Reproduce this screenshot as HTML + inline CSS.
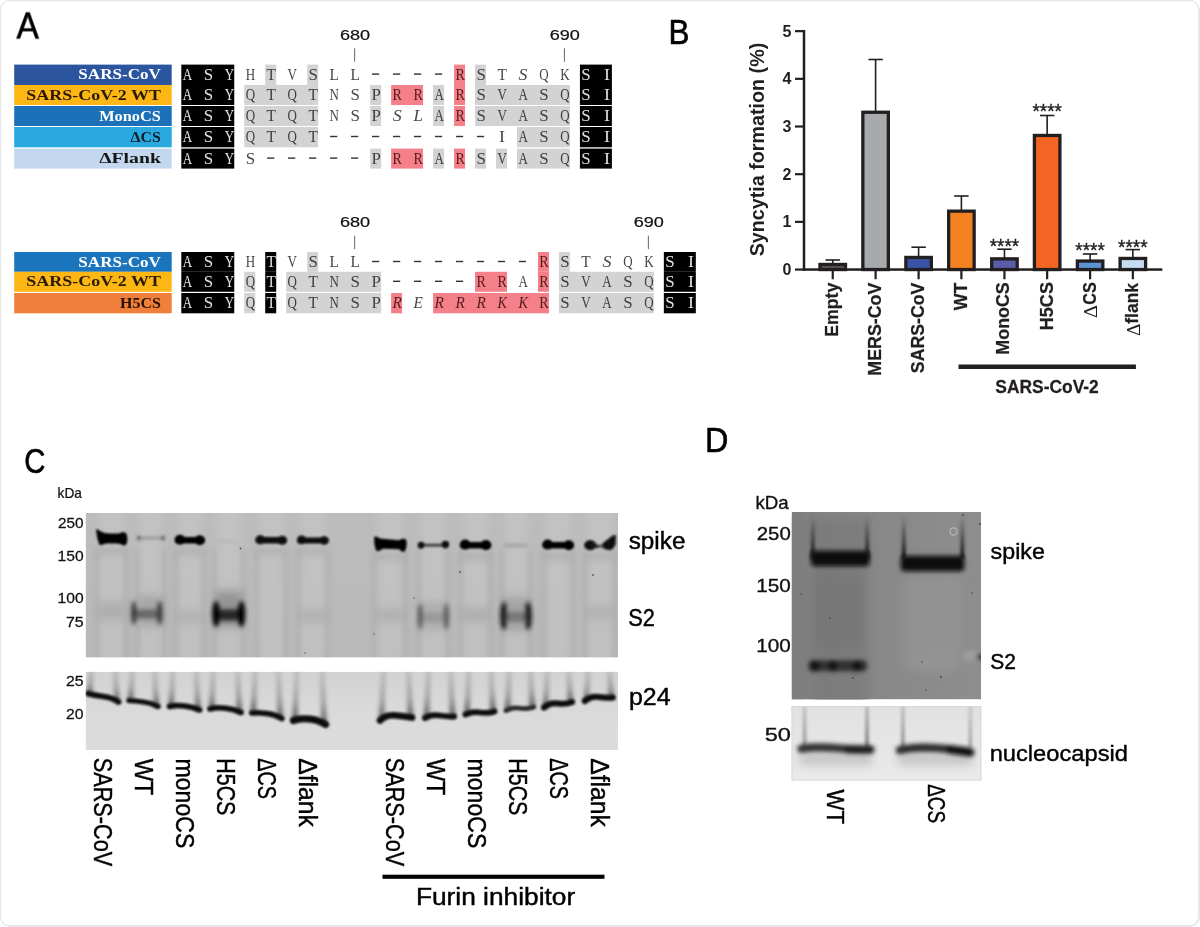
<!DOCTYPE html>
<html><head><meta charset="utf-8"><title>Figure</title>
<style>
html,body{margin:0;padding:0;background:#fff;}
body{width:1200px;height:927px;overflow:hidden;font-family:"Liberation Sans",sans-serif;}
svg{display:block;will-change:transform;}
</style></head><body>
<svg width="1200" height="927" viewBox="0 0 1200 927">
<defs>
<filter id="b05" filterUnits="userSpaceOnUse" x="0" y="0" width="1200" height="927"><feGaussianBlur stdDeviation="0.6"/></filter>
<filter id="b1" filterUnits="userSpaceOnUse" x="0" y="0" width="1200" height="927"><feGaussianBlur stdDeviation="1.0"/></filter>
<filter id="b15" filterUnits="userSpaceOnUse" x="0" y="0" width="1200" height="927"><feGaussianBlur stdDeviation="1.5"/></filter>
<filter id="b2" filterUnits="userSpaceOnUse" x="0" y="0" width="1200" height="927"><feGaussianBlur stdDeviation="2.2"/></filter>
<filter id="b3" filterUnits="userSpaceOnUse" x="0" y="0" width="1200" height="927"><feGaussianBlur stdDeviation="3.5"/></filter>
<filter id="b5" filterUnits="userSpaceOnUse" x="0" y="0" width="1200" height="927"><feGaussianBlur stdDeviation="5"/></filter>
<filter id="b8" filterUnits="userSpaceOnUse" x="0" y="0" width="1200" height="927"><feGaussianBlur stdDeviation="8"/></filter>
<clipPath id="cC1"><rect x="85.6" y="513" width="532.4" height="144.6"/></clipPath>
<clipPath id="cC2"><rect x="85.6" y="671.7" width="532.4" height="78.5"/></clipPath>
<clipPath id="cD1"><rect x="791.9" y="512" width="189.1" height="187.4"/></clipPath>
<clipPath id="cD2"><rect x="791.9" y="706.6" width="189.1" height="73.6"/></clipPath>
</defs>
<rect x="0" y="0" width="1200" height="927" fill="#fff"/>
<rect x="0.6" y="0.6" width="1198.4" height="925.4" rx="9" ry="9" fill="#fff" stroke="#e7e7e7" stroke-width="1.2"/>
<path d="M1199 8 L1199 917 A9 9 0 0 1 1190 926 L8 926" fill="none" stroke="#e7e7e7" stroke-width="2"/>
<g opacity="0.999">
<text transform="translate(16.50 38.50) scale(0.9238 1)" font-size="36.3" font-family="Liberation Sans, sans-serif" stroke="#000" stroke-width="0.65" >A</text>
<rect x="14.20" y="64.60" width="157.50" height="20.40" fill="#2b569f" />
<text x="160.90" y="79.20" font-size="14.4" font-family="Liberation Serif, serif" font-weight="bold" text-anchor="end" fill="#fff" textLength="82.56" lengthAdjust="spacingAndGlyphs" >SARS-CoV</text>
<rect x="14.20" y="85.00" width="157.50" height="20.00" fill="#fdb715" />
<text x="160.90" y="99.60" font-size="14.4" font-family="Liberation Serif, serif" font-weight="bold" text-anchor="end" fill="#2a1a00" textLength="134.66" lengthAdjust="spacingAndGlyphs" >SARS-CoV-2 WT</text>
<rect x="14.20" y="106.00" width="157.50" height="20.00" fill="#1b70b8" />
<text x="160.90" y="120.60" font-size="14.4" font-family="Liberation Serif, serif" font-weight="bold" text-anchor="end" fill="#fff" textLength="61.72" lengthAdjust="spacingAndGlyphs" >MonoCS</text>
<rect x="14.20" y="127.00" width="157.50" height="20.30" fill="#29a9e0" />
<text x="160.90" y="141.60" font-size="14.4" font-family="Liberation Serif, serif" font-weight="bold" text-anchor="end" fill="#10202a" textLength="30.46" lengthAdjust="spacingAndGlyphs" >&#916;CS</text>
<rect x="14.20" y="148.60" width="157.50" height="20.00" fill="#c3d8ee" />
<text x="160.90" y="163.20" font-size="14.4" font-family="Liberation Serif, serif" font-weight="bold" text-anchor="end" fill="#151515" textLength="61.72" lengthAdjust="spacingAndGlyphs" >&#916;Flank</text>
<rect x="181.30" y="64.60" width="52.96" height="20.40" fill="#000" />
<rect x="265.22" y="64.60" width="11.00" height="20.40" fill="#d3d3d3" />
<rect x="307.18" y="64.60" width="11.00" height="20.40" fill="#d3d3d3" />
<rect x="454.04" y="64.60" width="11.00" height="20.40" fill="#f4818a" />
<rect x="475.02" y="64.60" width="11.00" height="20.40" fill="#d3d3d3" />
<rect x="579.92" y="64.60" width="31.98" height="20.40" fill="#000" />
<rect x="181.30" y="85.00" width="52.96" height="20.00" fill="#000" />
<rect x="244.24" y="85.00" width="73.94" height="20.00" fill="#d3d3d3" />
<rect x="370.12" y="85.00" width="11.00" height="20.00" fill="#d3d3d3" />
<rect x="391.10" y="85.00" width="31.98" height="20.00" fill="#f4818a" />
<rect x="433.06" y="85.00" width="11.00" height="20.00" fill="#d3d3d3" />
<rect x="454.04" y="85.00" width="11.00" height="20.00" fill="#f4818a" />
<rect x="475.02" y="85.00" width="94.92" height="20.00" fill="#d3d3d3" />
<rect x="579.92" y="85.00" width="31.98" height="20.00" fill="#000" />
<rect x="181.30" y="106.00" width="52.96" height="20.00" fill="#000" />
<rect x="244.24" y="106.00" width="73.94" height="20.00" fill="#d3d3d3" />
<rect x="370.12" y="106.00" width="11.00" height="20.00" fill="#d3d3d3" />
<rect x="433.06" y="106.00" width="11.00" height="20.00" fill="#d3d3d3" />
<rect x="454.04" y="106.00" width="11.00" height="20.00" fill="#f4818a" />
<rect x="475.02" y="106.00" width="94.92" height="20.00" fill="#d3d3d3" />
<rect x="579.92" y="106.00" width="31.98" height="20.00" fill="#000" />
<rect x="181.30" y="127.00" width="52.96" height="20.30" fill="#000" />
<rect x="244.24" y="127.00" width="73.94" height="20.30" fill="#d3d3d3" />
<rect x="516.98" y="127.00" width="52.96" height="20.30" fill="#d3d3d3" />
<rect x="579.92" y="127.00" width="31.98" height="20.30" fill="#000" />
<rect x="181.30" y="148.60" width="52.96" height="20.00" fill="#000" />
<rect x="370.12" y="148.60" width="11.00" height="20.00" fill="#d3d3d3" />
<rect x="391.10" y="148.60" width="31.98" height="20.00" fill="#f4818a" />
<rect x="433.06" y="148.60" width="11.00" height="20.00" fill="#d3d3d3" />
<rect x="454.04" y="148.60" width="11.00" height="20.00" fill="#f4818a" />
<rect x="475.02" y="148.60" width="11.00" height="20.00" fill="#d3d3d3" />
<rect x="496.00" y="148.60" width="11.00" height="20.00" fill="#d3d3d3" />
<rect x="516.98" y="148.60" width="52.96" height="20.00" fill="#d3d3d3" />
<rect x="579.92" y="148.60" width="31.98" height="20.00" fill="#000" />
<text transform="translate(187.40 79.80) scale(0.814 1)" x="0" y="0" font-size="16.0" font-family="Liberation Serif, serif" text-anchor="middle" fill="#e0e0e0">A</text>
<text transform="translate(208.38 79.80) scale(1.056 1)" x="0" y="0" font-size="16.0" font-family="Liberation Serif, serif" text-anchor="middle" fill="#e0e0e0">S</text>
<text transform="translate(229.36 79.80) scale(0.814 1)" x="0" y="0" font-size="16.0" font-family="Liberation Serif, serif" text-anchor="middle" fill="#e0e0e0">Y</text>
<text transform="translate(250.34 79.80) scale(0.814 1)" x="0" y="0" font-size="16.0" font-family="Liberation Serif, serif" text-anchor="middle" fill="#484848">H</text>
<text transform="translate(271.32 79.80) scale(0.962 1)" x="0" y="0" font-size="16.0" font-family="Liberation Serif, serif" text-anchor="middle" fill="#404040">T</text>
<text transform="translate(292.30 79.80) scale(0.814 1)" x="0" y="0" font-size="16.0" font-family="Liberation Serif, serif" text-anchor="middle" fill="#484848">V</text>
<text transform="translate(313.28 79.80) scale(1.056 1)" x="0" y="0" font-size="16.0" font-family="Liberation Serif, serif" text-anchor="middle" fill="#404040">S</text>
<text transform="translate(334.26 79.80) scale(0.962 1)" x="0" y="0" font-size="16.0" font-family="Liberation Serif, serif" text-anchor="middle" fill="#484848">L</text>
<text transform="translate(355.24 79.80) scale(0.962 1)" x="0" y="0" font-size="16.0" font-family="Liberation Serif, serif" text-anchor="middle" fill="#484848">L</text>
<rect x="372.02" y="73.40" width="7.20" height="1.40" fill="#333" />
<rect x="393.00" y="73.40" width="7.20" height="1.40" fill="#333" />
<rect x="413.98" y="73.40" width="7.20" height="1.40" fill="#333" />
<rect x="434.96" y="73.40" width="7.20" height="1.40" fill="#333" />
<text transform="translate(460.14 79.80) scale(0.881 1)" x="0" y="0" font-size="16.0" font-family="Liberation Serif, serif" text-anchor="middle" fill="#5a1a20">R</text>
<text transform="translate(481.12 79.80) scale(1.056 1)" x="0" y="0" font-size="16.0" font-family="Liberation Serif, serif" text-anchor="middle" fill="#404040">S</text>
<text transform="translate(502.10 79.80) scale(0.962 1)" x="0" y="0" font-size="16.0" font-family="Liberation Serif, serif" text-anchor="middle" fill="#484848">T</text>
<text transform="translate(523.08 79.80) scale(1.120 1)" x="0" y="0" font-size="16.0" font-family="Liberation Serif, serif" text-anchor="middle" fill="#484848" font-style="italic">S</text>
<text transform="translate(544.06 79.80) scale(0.814 1)" x="0" y="0" font-size="16.0" font-family="Liberation Serif, serif" text-anchor="middle" fill="#484848">Q</text>
<text transform="translate(565.04 79.80) scale(0.814 1)" x="0" y="0" font-size="16.0" font-family="Liberation Serif, serif" text-anchor="middle" fill="#484848">K</text>
<text transform="translate(586.02 79.80) scale(1.056 1)" x="0" y="0" font-size="16.0" font-family="Liberation Serif, serif" text-anchor="middle" fill="#e0e0e0">S</text>
<text transform="translate(607.00 79.80) scale(1.120 1)" x="0" y="0" font-size="16.0" font-family="Liberation Serif, serif" text-anchor="middle" fill="#e0e0e0">I</text>
<text transform="translate(187.40 100.20) scale(0.814 1)" x="0" y="0" font-size="16.0" font-family="Liberation Serif, serif" text-anchor="middle" fill="#e0e0e0">A</text>
<text transform="translate(208.38 100.20) scale(1.056 1)" x="0" y="0" font-size="16.0" font-family="Liberation Serif, serif" text-anchor="middle" fill="#e0e0e0">S</text>
<text transform="translate(229.36 100.20) scale(0.814 1)" x="0" y="0" font-size="16.0" font-family="Liberation Serif, serif" text-anchor="middle" fill="#e0e0e0">Y</text>
<text transform="translate(250.34 100.20) scale(0.814 1)" x="0" y="0" font-size="16.0" font-family="Liberation Serif, serif" text-anchor="middle" fill="#404040">Q</text>
<text transform="translate(271.32 100.20) scale(0.962 1)" x="0" y="0" font-size="16.0" font-family="Liberation Serif, serif" text-anchor="middle" fill="#404040">T</text>
<text transform="translate(292.30 100.20) scale(0.814 1)" x="0" y="0" font-size="16.0" font-family="Liberation Serif, serif" text-anchor="middle" fill="#404040">Q</text>
<text transform="translate(313.28 100.20) scale(0.962 1)" x="0" y="0" font-size="16.0" font-family="Liberation Serif, serif" text-anchor="middle" fill="#404040">T</text>
<text transform="translate(334.26 100.20) scale(0.814 1)" x="0" y="0" font-size="16.0" font-family="Liberation Serif, serif" text-anchor="middle" fill="#484848">N</text>
<text transform="translate(355.24 100.20) scale(1.056 1)" x="0" y="0" font-size="16.0" font-family="Liberation Serif, serif" text-anchor="middle" fill="#484848">S</text>
<text transform="translate(376.22 100.20) scale(1.056 1)" x="0" y="0" font-size="16.0" font-family="Liberation Serif, serif" text-anchor="middle" fill="#404040">P</text>
<text transform="translate(397.20 100.20) scale(0.881 1)" x="0" y="0" font-size="16.0" font-family="Liberation Serif, serif" text-anchor="middle" fill="#5a1a20">R</text>
<text transform="translate(418.18 100.20) scale(0.881 1)" x="0" y="0" font-size="16.0" font-family="Liberation Serif, serif" text-anchor="middle" fill="#5a1a20">R</text>
<text transform="translate(439.16 100.20) scale(0.814 1)" x="0" y="0" font-size="16.0" font-family="Liberation Serif, serif" text-anchor="middle" fill="#404040">A</text>
<text transform="translate(460.14 100.20) scale(0.881 1)" x="0" y="0" font-size="16.0" font-family="Liberation Serif, serif" text-anchor="middle" fill="#5a1a20">R</text>
<text transform="translate(481.12 100.20) scale(1.056 1)" x="0" y="0" font-size="16.0" font-family="Liberation Serif, serif" text-anchor="middle" fill="#404040">S</text>
<text transform="translate(502.10 100.20) scale(0.814 1)" x="0" y="0" font-size="16.0" font-family="Liberation Serif, serif" text-anchor="middle" fill="#404040">V</text>
<text transform="translate(523.08 100.20) scale(0.814 1)" x="0" y="0" font-size="16.0" font-family="Liberation Serif, serif" text-anchor="middle" fill="#404040">A</text>
<text transform="translate(544.06 100.20) scale(1.056 1)" x="0" y="0" font-size="16.0" font-family="Liberation Serif, serif" text-anchor="middle" fill="#404040">S</text>
<text transform="translate(565.04 100.20) scale(0.814 1)" x="0" y="0" font-size="16.0" font-family="Liberation Serif, serif" text-anchor="middle" fill="#404040">Q</text>
<text transform="translate(586.02 100.20) scale(1.056 1)" x="0" y="0" font-size="16.0" font-family="Liberation Serif, serif" text-anchor="middle" fill="#e0e0e0">S</text>
<text transform="translate(607.00 100.20) scale(1.120 1)" x="0" y="0" font-size="16.0" font-family="Liberation Serif, serif" text-anchor="middle" fill="#e0e0e0">I</text>
<text transform="translate(187.40 121.20) scale(0.814 1)" x="0" y="0" font-size="16.0" font-family="Liberation Serif, serif" text-anchor="middle" fill="#e0e0e0">A</text>
<text transform="translate(208.38 121.20) scale(1.056 1)" x="0" y="0" font-size="16.0" font-family="Liberation Serif, serif" text-anchor="middle" fill="#e0e0e0">S</text>
<text transform="translate(229.36 121.20) scale(0.814 1)" x="0" y="0" font-size="16.0" font-family="Liberation Serif, serif" text-anchor="middle" fill="#e0e0e0">Y</text>
<text transform="translate(250.34 121.20) scale(0.814 1)" x="0" y="0" font-size="16.0" font-family="Liberation Serif, serif" text-anchor="middle" fill="#404040">Q</text>
<text transform="translate(271.32 121.20) scale(0.962 1)" x="0" y="0" font-size="16.0" font-family="Liberation Serif, serif" text-anchor="middle" fill="#404040">T</text>
<text transform="translate(292.30 121.20) scale(0.814 1)" x="0" y="0" font-size="16.0" font-family="Liberation Serif, serif" text-anchor="middle" fill="#404040">Q</text>
<text transform="translate(313.28 121.20) scale(0.962 1)" x="0" y="0" font-size="16.0" font-family="Liberation Serif, serif" text-anchor="middle" fill="#404040">T</text>
<text transform="translate(334.26 121.20) scale(0.814 1)" x="0" y="0" font-size="16.0" font-family="Liberation Serif, serif" text-anchor="middle" fill="#484848">N</text>
<text transform="translate(355.24 121.20) scale(1.056 1)" x="0" y="0" font-size="16.0" font-family="Liberation Serif, serif" text-anchor="middle" fill="#484848">S</text>
<text transform="translate(376.22 121.20) scale(1.056 1)" x="0" y="0" font-size="16.0" font-family="Liberation Serif, serif" text-anchor="middle" fill="#404040">P</text>
<text transform="translate(397.20 121.20) scale(1.120 1)" x="0" y="0" font-size="16.0" font-family="Liberation Serif, serif" text-anchor="middle" fill="#484848" font-style="italic">S</text>
<text transform="translate(418.18 121.20) scale(1.056 1)" x="0" y="0" font-size="16.0" font-family="Liberation Serif, serif" text-anchor="middle" fill="#484848" font-style="italic">L</text>
<text transform="translate(439.16 121.20) scale(0.814 1)" x="0" y="0" font-size="16.0" font-family="Liberation Serif, serif" text-anchor="middle" fill="#404040">A</text>
<text transform="translate(460.14 121.20) scale(0.881 1)" x="0" y="0" font-size="16.0" font-family="Liberation Serif, serif" text-anchor="middle" fill="#5a1a20">R</text>
<text transform="translate(481.12 121.20) scale(1.056 1)" x="0" y="0" font-size="16.0" font-family="Liberation Serif, serif" text-anchor="middle" fill="#404040">S</text>
<text transform="translate(502.10 121.20) scale(0.814 1)" x="0" y="0" font-size="16.0" font-family="Liberation Serif, serif" text-anchor="middle" fill="#404040">V</text>
<text transform="translate(523.08 121.20) scale(0.814 1)" x="0" y="0" font-size="16.0" font-family="Liberation Serif, serif" text-anchor="middle" fill="#404040">A</text>
<text transform="translate(544.06 121.20) scale(1.056 1)" x="0" y="0" font-size="16.0" font-family="Liberation Serif, serif" text-anchor="middle" fill="#404040">S</text>
<text transform="translate(565.04 121.20) scale(0.814 1)" x="0" y="0" font-size="16.0" font-family="Liberation Serif, serif" text-anchor="middle" fill="#404040">Q</text>
<text transform="translate(586.02 121.20) scale(1.056 1)" x="0" y="0" font-size="16.0" font-family="Liberation Serif, serif" text-anchor="middle" fill="#e0e0e0">S</text>
<text transform="translate(607.00 121.20) scale(1.120 1)" x="0" y="0" font-size="16.0" font-family="Liberation Serif, serif" text-anchor="middle" fill="#e0e0e0">I</text>
<text transform="translate(187.40 142.20) scale(0.814 1)" x="0" y="0" font-size="16.0" font-family="Liberation Serif, serif" text-anchor="middle" fill="#e0e0e0">A</text>
<text transform="translate(208.38 142.20) scale(1.056 1)" x="0" y="0" font-size="16.0" font-family="Liberation Serif, serif" text-anchor="middle" fill="#e0e0e0">S</text>
<text transform="translate(229.36 142.20) scale(0.814 1)" x="0" y="0" font-size="16.0" font-family="Liberation Serif, serif" text-anchor="middle" fill="#e0e0e0">Y</text>
<text transform="translate(250.34 142.20) scale(0.814 1)" x="0" y="0" font-size="16.0" font-family="Liberation Serif, serif" text-anchor="middle" fill="#404040">Q</text>
<text transform="translate(271.32 142.20) scale(0.962 1)" x="0" y="0" font-size="16.0" font-family="Liberation Serif, serif" text-anchor="middle" fill="#404040">T</text>
<text transform="translate(292.30 142.20) scale(0.814 1)" x="0" y="0" font-size="16.0" font-family="Liberation Serif, serif" text-anchor="middle" fill="#404040">Q</text>
<text transform="translate(313.28 142.20) scale(0.962 1)" x="0" y="0" font-size="16.0" font-family="Liberation Serif, serif" text-anchor="middle" fill="#404040">T</text>
<rect x="330.06" y="135.80" width="7.20" height="1.40" fill="#333" />
<rect x="351.04" y="135.80" width="7.20" height="1.40" fill="#333" />
<rect x="372.02" y="135.80" width="7.20" height="1.40" fill="#333" />
<rect x="393.00" y="135.80" width="7.20" height="1.40" fill="#333" />
<rect x="413.98" y="135.80" width="7.20" height="1.40" fill="#333" />
<rect x="434.96" y="135.80" width="7.20" height="1.40" fill="#333" />
<rect x="455.94" y="135.80" width="7.20" height="1.40" fill="#333" />
<rect x="476.92" y="135.80" width="7.20" height="1.40" fill="#333" />
<text transform="translate(502.10 142.20) scale(1.120 1)" x="0" y="0" font-size="16.0" font-family="Liberation Serif, serif" text-anchor="middle" fill="#484848">I</text>
<text transform="translate(523.08 142.20) scale(0.814 1)" x="0" y="0" font-size="16.0" font-family="Liberation Serif, serif" text-anchor="middle" fill="#404040">A</text>
<text transform="translate(544.06 142.20) scale(1.056 1)" x="0" y="0" font-size="16.0" font-family="Liberation Serif, serif" text-anchor="middle" fill="#404040">S</text>
<text transform="translate(565.04 142.20) scale(0.814 1)" x="0" y="0" font-size="16.0" font-family="Liberation Serif, serif" text-anchor="middle" fill="#404040">Q</text>
<text transform="translate(586.02 142.20) scale(1.056 1)" x="0" y="0" font-size="16.0" font-family="Liberation Serif, serif" text-anchor="middle" fill="#e0e0e0">S</text>
<text transform="translate(607.00 142.20) scale(1.120 1)" x="0" y="0" font-size="16.0" font-family="Liberation Serif, serif" text-anchor="middle" fill="#e0e0e0">I</text>
<text transform="translate(187.40 163.80) scale(0.814 1)" x="0" y="0" font-size="16.0" font-family="Liberation Serif, serif" text-anchor="middle" fill="#e0e0e0">A</text>
<text transform="translate(208.38 163.80) scale(1.056 1)" x="0" y="0" font-size="16.0" font-family="Liberation Serif, serif" text-anchor="middle" fill="#e0e0e0">S</text>
<text transform="translate(229.36 163.80) scale(0.814 1)" x="0" y="0" font-size="16.0" font-family="Liberation Serif, serif" text-anchor="middle" fill="#e0e0e0">Y</text>
<text transform="translate(250.34 163.80) scale(1.056 1)" x="0" y="0" font-size="16.0" font-family="Liberation Serif, serif" text-anchor="middle" fill="#484848">S</text>
<rect x="267.12" y="157.40" width="7.20" height="1.40" fill="#333" />
<rect x="288.10" y="157.40" width="7.20" height="1.40" fill="#333" />
<rect x="309.08" y="157.40" width="7.20" height="1.40" fill="#333" />
<rect x="330.06" y="157.40" width="7.20" height="1.40" fill="#333" />
<rect x="351.04" y="157.40" width="7.20" height="1.40" fill="#333" />
<text transform="translate(376.22 163.80) scale(1.056 1)" x="0" y="0" font-size="16.0" font-family="Liberation Serif, serif" text-anchor="middle" fill="#404040">P</text>
<text transform="translate(397.20 163.80) scale(0.881 1)" x="0" y="0" font-size="16.0" font-family="Liberation Serif, serif" text-anchor="middle" fill="#5a1a20">R</text>
<text transform="translate(418.18 163.80) scale(0.881 1)" x="0" y="0" font-size="16.0" font-family="Liberation Serif, serif" text-anchor="middle" fill="#5a1a20">R</text>
<text transform="translate(439.16 163.80) scale(0.814 1)" x="0" y="0" font-size="16.0" font-family="Liberation Serif, serif" text-anchor="middle" fill="#404040">A</text>
<text transform="translate(460.14 163.80) scale(0.881 1)" x="0" y="0" font-size="16.0" font-family="Liberation Serif, serif" text-anchor="middle" fill="#5a1a20">R</text>
<text transform="translate(481.12 163.80) scale(1.056 1)" x="0" y="0" font-size="16.0" font-family="Liberation Serif, serif" text-anchor="middle" fill="#404040">S</text>
<text transform="translate(502.10 163.80) scale(0.814 1)" x="0" y="0" font-size="16.0" font-family="Liberation Serif, serif" text-anchor="middle" fill="#404040">V</text>
<text transform="translate(523.08 163.80) scale(0.814 1)" x="0" y="0" font-size="16.0" font-family="Liberation Serif, serif" text-anchor="middle" fill="#404040">A</text>
<text transform="translate(544.06 163.80) scale(1.056 1)" x="0" y="0" font-size="16.0" font-family="Liberation Serif, serif" text-anchor="middle" fill="#404040">S</text>
<text transform="translate(565.04 163.80) scale(0.814 1)" x="0" y="0" font-size="16.0" font-family="Liberation Serif, serif" text-anchor="middle" fill="#404040">Q</text>
<text transform="translate(586.02 163.80) scale(1.056 1)" x="0" y="0" font-size="16.0" font-family="Liberation Serif, serif" text-anchor="middle" fill="#e0e0e0">S</text>
<text transform="translate(607.00 163.80) scale(1.120 1)" x="0" y="0" font-size="16.0" font-family="Liberation Serif, serif" text-anchor="middle" fill="#e0e0e0">I</text>
<rect x="354.14" y="48.30" width="1.00" height="13.40" fill="#666" />
<text transform="translate(339.93 39.70) scale(1.2068 1)" font-size="15.0" font-family="Liberation Sans, sans-serif" fill="#111" stroke="#111" stroke-width="0.22" >680</text>
<rect x="563.94" y="48.30" width="1.00" height="13.40" fill="#666" />
<text transform="translate(549.73 39.70) scale(1.2068 1)" font-size="15.0" font-family="Liberation Sans, sans-serif" fill="#111" stroke="#111" stroke-width="0.22" >690</text>
<rect x="14.20" y="252.00" width="157.50" height="19.80" fill="#1b75bc" />
<text x="160.90" y="266.60" font-size="14.4" font-family="Liberation Serif, serif" font-weight="bold" text-anchor="end" fill="#fff" textLength="82.56" lengthAdjust="spacingAndGlyphs" >SARS-CoV</text>
<rect x="14.20" y="271.80" width="157.50" height="20.00" fill="#fdb715" />
<text x="160.90" y="286.40" font-size="14.4" font-family="Liberation Serif, serif" font-weight="bold" text-anchor="end" fill="#2a1a00" textLength="134.66" lengthAdjust="spacingAndGlyphs" >SARS-CoV-2 WT</text>
<rect x="14.20" y="293.00" width="157.50" height="20.30" fill="#f07f3b" />
<text x="160.90" y="307.60" font-size="14.4" font-family="Liberation Serif, serif" font-weight="bold" text-anchor="end" fill="#2a1000" textLength="40.88" lengthAdjust="spacingAndGlyphs" >H5CS</text>
<rect x="181.30" y="252.00" width="52.96" height="19.80" fill="#000" />
<rect x="265.22" y="252.00" width="11.00" height="19.80" fill="#000" />
<rect x="307.18" y="252.00" width="11.00" height="19.80" fill="#d3d3d3" />
<rect x="537.96" y="252.00" width="11.00" height="19.80" fill="#f4818a" />
<rect x="558.94" y="252.00" width="11.00" height="19.80" fill="#d3d3d3" />
<rect x="663.84" y="252.00" width="31.98" height="19.80" fill="#000" />
<rect x="181.30" y="271.80" width="52.96" height="20.00" fill="#000" />
<rect x="244.24" y="271.80" width="11.00" height="20.00" fill="#d3d3d3" />
<rect x="265.22" y="271.80" width="11.00" height="20.00" fill="#000" />
<rect x="286.20" y="271.80" width="94.92" height="20.00" fill="#d3d3d3" />
<rect x="475.02" y="271.80" width="31.98" height="20.00" fill="#f4818a" />
<rect x="537.96" y="271.80" width="11.00" height="20.00" fill="#f4818a" />
<rect x="558.94" y="271.80" width="94.92" height="20.00" fill="#d3d3d3" />
<rect x="663.84" y="271.80" width="31.98" height="20.00" fill="#000" />
<rect x="181.30" y="293.00" width="52.96" height="20.30" fill="#000" />
<rect x="244.24" y="293.00" width="11.00" height="20.30" fill="#d3d3d3" />
<rect x="265.22" y="293.00" width="11.00" height="20.30" fill="#000" />
<rect x="286.20" y="293.00" width="94.92" height="20.30" fill="#d3d3d3" />
<rect x="391.10" y="293.00" width="11.00" height="20.30" fill="#f4818a" />
<rect x="433.06" y="293.00" width="115.90" height="20.30" fill="#f4818a" />
<rect x="558.94" y="293.00" width="94.92" height="20.30" fill="#d3d3d3" />
<rect x="663.84" y="293.00" width="31.98" height="20.30" fill="#000" />
<text transform="translate(187.40 267.20) scale(0.814 1)" x="0" y="0" font-size="16.0" font-family="Liberation Serif, serif" text-anchor="middle" fill="#e0e0e0">A</text>
<text transform="translate(208.38 267.20) scale(1.056 1)" x="0" y="0" font-size="16.0" font-family="Liberation Serif, serif" text-anchor="middle" fill="#e0e0e0">S</text>
<text transform="translate(229.36 267.20) scale(0.814 1)" x="0" y="0" font-size="16.0" font-family="Liberation Serif, serif" text-anchor="middle" fill="#e0e0e0">Y</text>
<text transform="translate(250.34 267.20) scale(0.814 1)" x="0" y="0" font-size="16.0" font-family="Liberation Serif, serif" text-anchor="middle" fill="#484848">H</text>
<text transform="translate(271.32 267.20) scale(0.962 1)" x="0" y="0" font-size="16.0" font-family="Liberation Serif, serif" text-anchor="middle" fill="#e0e0e0">T</text>
<text transform="translate(292.30 267.20) scale(0.814 1)" x="0" y="0" font-size="16.0" font-family="Liberation Serif, serif" text-anchor="middle" fill="#484848">V</text>
<text transform="translate(313.28 267.20) scale(1.056 1)" x="0" y="0" font-size="16.0" font-family="Liberation Serif, serif" text-anchor="middle" fill="#404040">S</text>
<text transform="translate(334.26 267.20) scale(0.962 1)" x="0" y="0" font-size="16.0" font-family="Liberation Serif, serif" text-anchor="middle" fill="#484848">L</text>
<text transform="translate(355.24 267.20) scale(0.962 1)" x="0" y="0" font-size="16.0" font-family="Liberation Serif, serif" text-anchor="middle" fill="#484848">L</text>
<rect x="372.02" y="260.80" width="7.20" height="1.40" fill="#333" />
<rect x="393.00" y="260.80" width="7.20" height="1.40" fill="#333" />
<rect x="413.98" y="260.80" width="7.20" height="1.40" fill="#333" />
<rect x="434.96" y="260.80" width="7.20" height="1.40" fill="#333" />
<rect x="455.94" y="260.80" width="7.20" height="1.40" fill="#333" />
<rect x="476.92" y="260.80" width="7.20" height="1.40" fill="#333" />
<rect x="497.90" y="260.80" width="7.20" height="1.40" fill="#333" />
<rect x="518.88" y="260.80" width="7.20" height="1.40" fill="#333" />
<text transform="translate(544.06 267.20) scale(0.881 1)" x="0" y="0" font-size="16.0" font-family="Liberation Serif, serif" text-anchor="middle" fill="#5a1a20">R</text>
<text transform="translate(565.04 267.20) scale(1.056 1)" x="0" y="0" font-size="16.0" font-family="Liberation Serif, serif" text-anchor="middle" fill="#404040">S</text>
<text transform="translate(586.02 267.20) scale(0.962 1)" x="0" y="0" font-size="16.0" font-family="Liberation Serif, serif" text-anchor="middle" fill="#484848">T</text>
<text transform="translate(607.00 267.20) scale(1.120 1)" x="0" y="0" font-size="16.0" font-family="Liberation Serif, serif" text-anchor="middle" fill="#484848" font-style="italic">S</text>
<text transform="translate(627.98 267.20) scale(0.814 1)" x="0" y="0" font-size="16.0" font-family="Liberation Serif, serif" text-anchor="middle" fill="#484848">Q</text>
<text transform="translate(648.96 267.20) scale(0.814 1)" x="0" y="0" font-size="16.0" font-family="Liberation Serif, serif" text-anchor="middle" fill="#484848">K</text>
<text transform="translate(669.94 267.20) scale(1.056 1)" x="0" y="0" font-size="16.0" font-family="Liberation Serif, serif" text-anchor="middle" fill="#e0e0e0">S</text>
<text transform="translate(690.92 267.20) scale(1.120 1)" x="0" y="0" font-size="16.0" font-family="Liberation Serif, serif" text-anchor="middle" fill="#e0e0e0">I</text>
<text transform="translate(187.40 287.00) scale(0.814 1)" x="0" y="0" font-size="16.0" font-family="Liberation Serif, serif" text-anchor="middle" fill="#e0e0e0">A</text>
<text transform="translate(208.38 287.00) scale(1.056 1)" x="0" y="0" font-size="16.0" font-family="Liberation Serif, serif" text-anchor="middle" fill="#e0e0e0">S</text>
<text transform="translate(229.36 287.00) scale(0.814 1)" x="0" y="0" font-size="16.0" font-family="Liberation Serif, serif" text-anchor="middle" fill="#e0e0e0">Y</text>
<text transform="translate(250.34 287.00) scale(0.814 1)" x="0" y="0" font-size="16.0" font-family="Liberation Serif, serif" text-anchor="middle" fill="#404040">Q</text>
<text transform="translate(271.32 287.00) scale(0.962 1)" x="0" y="0" font-size="16.0" font-family="Liberation Serif, serif" text-anchor="middle" fill="#e0e0e0">T</text>
<text transform="translate(292.30 287.00) scale(0.814 1)" x="0" y="0" font-size="16.0" font-family="Liberation Serif, serif" text-anchor="middle" fill="#404040">Q</text>
<text transform="translate(313.28 287.00) scale(0.962 1)" x="0" y="0" font-size="16.0" font-family="Liberation Serif, serif" text-anchor="middle" fill="#404040">T</text>
<text transform="translate(334.26 287.00) scale(0.814 1)" x="0" y="0" font-size="16.0" font-family="Liberation Serif, serif" text-anchor="middle" fill="#404040">N</text>
<text transform="translate(355.24 287.00) scale(1.056 1)" x="0" y="0" font-size="16.0" font-family="Liberation Serif, serif" text-anchor="middle" fill="#404040">S</text>
<text transform="translate(376.22 287.00) scale(1.056 1)" x="0" y="0" font-size="16.0" font-family="Liberation Serif, serif" text-anchor="middle" fill="#404040">P</text>
<rect x="393.00" y="280.60" width="7.20" height="1.40" fill="#333" />
<rect x="413.98" y="280.60" width="7.20" height="1.40" fill="#333" />
<rect x="434.96" y="280.60" width="7.20" height="1.40" fill="#333" />
<rect x="455.94" y="280.60" width="7.20" height="1.40" fill="#333" />
<text transform="translate(481.12 287.00) scale(0.881 1)" x="0" y="0" font-size="16.0" font-family="Liberation Serif, serif" text-anchor="middle" fill="#5a1a20">R</text>
<text transform="translate(502.10 287.00) scale(0.881 1)" x="0" y="0" font-size="16.0" font-family="Liberation Serif, serif" text-anchor="middle" fill="#5a1a20">R</text>
<text transform="translate(523.08 287.00) scale(0.814 1)" x="0" y="0" font-size="16.0" font-family="Liberation Serif, serif" text-anchor="middle" fill="#484848">A</text>
<text transform="translate(544.06 287.00) scale(0.881 1)" x="0" y="0" font-size="16.0" font-family="Liberation Serif, serif" text-anchor="middle" fill="#5a1a20">R</text>
<text transform="translate(565.04 287.00) scale(1.056 1)" x="0" y="0" font-size="16.0" font-family="Liberation Serif, serif" text-anchor="middle" fill="#404040">S</text>
<text transform="translate(586.02 287.00) scale(0.814 1)" x="0" y="0" font-size="16.0" font-family="Liberation Serif, serif" text-anchor="middle" fill="#404040">V</text>
<text transform="translate(607.00 287.00) scale(0.814 1)" x="0" y="0" font-size="16.0" font-family="Liberation Serif, serif" text-anchor="middle" fill="#404040">A</text>
<text transform="translate(627.98 287.00) scale(1.056 1)" x="0" y="0" font-size="16.0" font-family="Liberation Serif, serif" text-anchor="middle" fill="#404040">S</text>
<text transform="translate(648.96 287.00) scale(0.814 1)" x="0" y="0" font-size="16.0" font-family="Liberation Serif, serif" text-anchor="middle" fill="#404040">Q</text>
<text transform="translate(669.94 287.00) scale(1.056 1)" x="0" y="0" font-size="16.0" font-family="Liberation Serif, serif" text-anchor="middle" fill="#e0e0e0">S</text>
<text transform="translate(690.92 287.00) scale(1.120 1)" x="0" y="0" font-size="16.0" font-family="Liberation Serif, serif" text-anchor="middle" fill="#e0e0e0">I</text>
<text transform="translate(187.40 308.20) scale(0.814 1)" x="0" y="0" font-size="16.0" font-family="Liberation Serif, serif" text-anchor="middle" fill="#e0e0e0">A</text>
<text transform="translate(208.38 308.20) scale(1.056 1)" x="0" y="0" font-size="16.0" font-family="Liberation Serif, serif" text-anchor="middle" fill="#e0e0e0">S</text>
<text transform="translate(229.36 308.20) scale(0.814 1)" x="0" y="0" font-size="16.0" font-family="Liberation Serif, serif" text-anchor="middle" fill="#e0e0e0">Y</text>
<text transform="translate(250.34 308.20) scale(0.814 1)" x="0" y="0" font-size="16.0" font-family="Liberation Serif, serif" text-anchor="middle" fill="#404040">Q</text>
<text transform="translate(271.32 308.20) scale(0.962 1)" x="0" y="0" font-size="16.0" font-family="Liberation Serif, serif" text-anchor="middle" fill="#e0e0e0">T</text>
<text transform="translate(292.30 308.20) scale(0.814 1)" x="0" y="0" font-size="16.0" font-family="Liberation Serif, serif" text-anchor="middle" fill="#404040">Q</text>
<text transform="translate(313.28 308.20) scale(0.962 1)" x="0" y="0" font-size="16.0" font-family="Liberation Serif, serif" text-anchor="middle" fill="#404040">T</text>
<text transform="translate(334.26 308.20) scale(0.814 1)" x="0" y="0" font-size="16.0" font-family="Liberation Serif, serif" text-anchor="middle" fill="#404040">N</text>
<text transform="translate(355.24 308.20) scale(1.056 1)" x="0" y="0" font-size="16.0" font-family="Liberation Serif, serif" text-anchor="middle" fill="#404040">S</text>
<text transform="translate(376.22 308.20) scale(1.056 1)" x="0" y="0" font-size="16.0" font-family="Liberation Serif, serif" text-anchor="middle" fill="#404040">P</text>
<text transform="translate(397.20 308.20) scale(0.962 1)" x="0" y="0" font-size="16.0" font-family="Liberation Serif, serif" text-anchor="middle" fill="#5a1a20" font-style="italic">R</text>
<text transform="translate(418.18 308.20) scale(0.962 1)" x="0" y="0" font-size="16.0" font-family="Liberation Serif, serif" text-anchor="middle" fill="#484848" font-style="italic">E</text>
<text transform="translate(439.16 308.20) scale(0.962 1)" x="0" y="0" font-size="16.0" font-family="Liberation Serif, serif" text-anchor="middle" fill="#5a1a20" font-style="italic">R</text>
<text transform="translate(460.14 308.20) scale(0.962 1)" x="0" y="0" font-size="16.0" font-family="Liberation Serif, serif" text-anchor="middle" fill="#5a1a20" font-style="italic">R</text>
<text transform="translate(481.12 308.20) scale(0.962 1)" x="0" y="0" font-size="16.0" font-family="Liberation Serif, serif" text-anchor="middle" fill="#5a1a20" font-style="italic">R</text>
<text transform="translate(502.10 308.20) scale(0.881 1)" x="0" y="0" font-size="16.0" font-family="Liberation Serif, serif" text-anchor="middle" fill="#5a1a20" font-style="italic">K</text>
<text transform="translate(523.08 308.20) scale(0.881 1)" x="0" y="0" font-size="16.0" font-family="Liberation Serif, serif" text-anchor="middle" fill="#5a1a20" font-style="italic">K</text>
<text transform="translate(544.06 308.20) scale(0.881 1)" x="0" y="0" font-size="16.0" font-family="Liberation Serif, serif" text-anchor="middle" fill="#5a1a20">R</text>
<text transform="translate(565.04 308.20) scale(1.056 1)" x="0" y="0" font-size="16.0" font-family="Liberation Serif, serif" text-anchor="middle" fill="#404040">S</text>
<text transform="translate(586.02 308.20) scale(0.814 1)" x="0" y="0" font-size="16.0" font-family="Liberation Serif, serif" text-anchor="middle" fill="#404040">V</text>
<text transform="translate(607.00 308.20) scale(0.814 1)" x="0" y="0" font-size="16.0" font-family="Liberation Serif, serif" text-anchor="middle" fill="#404040">A</text>
<text transform="translate(627.98 308.20) scale(1.056 1)" x="0" y="0" font-size="16.0" font-family="Liberation Serif, serif" text-anchor="middle" fill="#404040">S</text>
<text transform="translate(648.96 308.20) scale(0.814 1)" x="0" y="0" font-size="16.0" font-family="Liberation Serif, serif" text-anchor="middle" fill="#404040">Q</text>
<text transform="translate(669.94 308.20) scale(1.056 1)" x="0" y="0" font-size="16.0" font-family="Liberation Serif, serif" text-anchor="middle" fill="#e0e0e0">S</text>
<text transform="translate(690.92 308.20) scale(1.120 1)" x="0" y="0" font-size="16.0" font-family="Liberation Serif, serif" text-anchor="middle" fill="#e0e0e0">I</text>
<rect x="354.14" y="235.70" width="1.00" height="13.40" fill="#666" />
<text transform="translate(339.93 227.10) scale(1.2068 1)" font-size="15.0" font-family="Liberation Sans, sans-serif" fill="#111" stroke="#111" stroke-width="0.22" >680</text>
<rect x="647.86" y="235.70" width="1.00" height="13.40" fill="#666" />
<text transform="translate(633.65 227.10) scale(1.2068 1)" font-size="15.0" font-family="Liberation Sans, sans-serif" fill="#111" stroke="#111" stroke-width="0.22" >690</text>
<text transform="translate(668.39 43.70) scale(0.8723 1)" font-size="36.0" font-family="Liberation Sans, sans-serif" stroke="#000" stroke-width="0.65" >B</text>
<rect x="831.95" y="260.00" width="1.60" height="3.80" fill="#231f20" />
<rect x="825.55" y="259.20" width="14.40" height="1.60" fill="#231f20" />
<rect x="820.00" y="264.45" width="25.50" height="5.10" fill="#58595b" stroke="#231f20" stroke-width="3.3"/>
<rect x="831.65" y="269.55" width="2.20" height="9.70" fill="#231f20" />
<rect x="874.80" y="59.50" width="1.60" height="52.10" fill="#231f20" />
<rect x="868.40" y="58.70" width="14.40" height="1.60" fill="#231f20" />
<rect x="862.85" y="112.25" width="25.50" height="157.30" fill="#a7a9ac" stroke="#231f20" stroke-width="3.3"/>
<rect x="874.50" y="269.55" width="2.20" height="9.70" fill="#231f20" />
<rect x="917.80" y="247.20" width="1.60" height="9.60" fill="#231f20" />
<rect x="911.40" y="246.40" width="14.40" height="1.60" fill="#231f20" />
<rect x="905.85" y="257.45" width="25.50" height="12.10" fill="#3a53a4" stroke="#231f20" stroke-width="3.3"/>
<rect x="917.50" y="269.55" width="2.20" height="9.70" fill="#231f20" />
<rect x="960.60" y="196.00" width="1.60" height="14.50" fill="#231f20" />
<rect x="954.20" y="195.20" width="14.40" height="1.60" fill="#231f20" />
<rect x="948.65" y="211.15" width="25.50" height="58.40" fill="#f58220" stroke="#231f20" stroke-width="3.3"/>
<rect x="960.30" y="269.55" width="2.20" height="9.70" fill="#231f20" />
<rect x="1003.65" y="249.20" width="1.60" height="9.00" fill="#231f20" />
<rect x="997.25" y="248.40" width="14.40" height="1.60" fill="#231f20" />
<rect x="991.70" y="258.85" width="25.50" height="10.70" fill="#5a5ea8" stroke="#231f20" stroke-width="3.3"/>
<rect x="1003.35" y="269.55" width="2.20" height="9.70" fill="#231f20" />
<rect x="1046.35" y="115.50" width="1.60" height="19.30" fill="#231f20" />
<rect x="1039.95" y="114.70" width="14.40" height="1.60" fill="#231f20" />
<rect x="1034.40" y="135.45" width="25.50" height="134.10" fill="#f26522" stroke="#231f20" stroke-width="3.3"/>
<rect x="1046.05" y="269.55" width="2.20" height="9.70" fill="#231f20" />
<rect x="1089.30" y="254.00" width="1.60" height="6.40" fill="#231f20" />
<rect x="1082.90" y="253.20" width="14.40" height="1.60" fill="#231f20" />
<rect x="1077.35" y="261.05" width="25.50" height="8.50" fill="#5b93d3" stroke="#231f20" stroke-width="3.3"/>
<rect x="1089.00" y="269.55" width="2.20" height="9.70" fill="#231f20" />
<rect x="1132.05" y="249.60" width="1.60" height="8.20" fill="#231f20" />
<rect x="1125.65" y="248.80" width="14.40" height="1.60" fill="#231f20" />
<rect x="1120.10" y="258.45" width="25.50" height="11.10" fill="#c5dcf1" stroke="#231f20" stroke-width="3.3"/>
<rect x="1131.75" y="269.55" width="2.20" height="9.70" fill="#231f20" />
<rect x="802.75" y="30.00" width="2.50" height="240.80" fill="#231f20" />
<rect x="802.75" y="268.30" width="359.60" height="2.50" fill="#231f20" />
<rect x="795.00" y="268.45" width="8.50" height="2.20" fill="#231f20" />
<text x="791.30" y="275.15" font-size="16" font-family="Liberation Sans, sans-serif" font-weight="bold" text-anchor="end" fill="#231f20" >0</text>
<rect x="795.00" y="220.77" width="8.50" height="2.20" fill="#231f20" />
<text x="791.30" y="227.47" font-size="16" font-family="Liberation Sans, sans-serif" font-weight="bold" text-anchor="end" fill="#231f20" >1</text>
<rect x="795.00" y="173.09" width="8.50" height="2.20" fill="#231f20" />
<text x="791.30" y="179.79" font-size="16" font-family="Liberation Sans, sans-serif" font-weight="bold" text-anchor="end" fill="#231f20" >2</text>
<rect x="795.00" y="125.41" width="8.50" height="2.20" fill="#231f20" />
<text x="791.30" y="132.11" font-size="16" font-family="Liberation Sans, sans-serif" font-weight="bold" text-anchor="end" fill="#231f20" >3</text>
<rect x="795.00" y="77.73" width="8.50" height="2.20" fill="#231f20" />
<text x="791.30" y="84.43" font-size="16" font-family="Liberation Sans, sans-serif" font-weight="bold" text-anchor="end" fill="#231f20" >4</text>
<rect x="795.00" y="30.05" width="8.50" height="2.20" fill="#231f20" />
<text x="791.30" y="36.75" font-size="16" font-family="Liberation Sans, sans-serif" font-weight="bold" text-anchor="end" fill="#231f20" >5</text>
<text transform="translate(764.30 256.29) rotate(-90) scale(0.9960 1)" font-size="19.8" font-family="Liberation Sans, sans-serif" font-weight="bold" fill="#231f20" >Syncytia formation (%)</text>
<text transform="translate(838.25 336.65) rotate(-90) scale(0.9588 1)" font-size="18.4" font-family="Liberation Sans, sans-serif" font-weight="bold" fill="#231f20" stroke="#231f20" stroke-width="0.25" >Empty</text>
<text transform="translate(881.00 375.66) rotate(-90) scale(0.9682 1)" font-size="18.4" font-family="Liberation Sans, sans-serif" font-weight="bold" fill="#231f20" stroke="#231f20" stroke-width="0.25" >MERS-CoV</text>
<text transform="translate(924.00 373.14) rotate(-90) scale(0.9623 1)" font-size="18.4" font-family="Liberation Sans, sans-serif" font-weight="bold" fill="#231f20" stroke="#231f20" stroke-width="0.25" >SARS-CoV</text>
<text transform="translate(967.20 310.20) rotate(-90) scale(0.9625 1)" font-size="18.4" font-family="Liberation Sans, sans-serif" font-weight="bold" fill="#231f20" stroke="#231f20" stroke-width="0.25" >WT</text>
<text transform="translate(1009.40 354.66) rotate(-90) scale(0.9722 1)" font-size="18.4" font-family="Liberation Sans, sans-serif" font-weight="bold" fill="#231f20" stroke="#231f20" stroke-width="0.25" >MonoCS</text>
<text transform="translate(1052.50 330.17) rotate(-90) scale(0.9800 1)" font-size="18.4" font-family="Liberation Sans, sans-serif" font-weight="bold" fill="#231f20" stroke="#231f20" stroke-width="0.25" >H5CS</text>
<text transform="translate(1095.60 304.65) rotate(-90) scale(0.8816 1)" font-size="18.4" font-family="Liberation Sans, sans-serif" font-weight="bold" fill="#231f20" stroke="#231f20" stroke-width="0.25" >CS</text>
<text transform="translate(1138.30 323.76) rotate(-90) scale(0.9525 1)" font-size="18.4" font-family="Liberation Sans, sans-serif" font-weight="bold" fill="#231f20" stroke="#231f20" stroke-width="0.25" >flank</text>
<text transform="translate(1097.20 317.91) rotate(-90) scale(1.0618 1)" font-size="19" font-family="Liberation Serif, serif" fill="#231f20" >&#916;</text>
<text transform="translate(1140.20 335.88) rotate(-90) scale(1.0160 1)" font-size="19" font-family="Liberation Serif, serif" fill="#231f20" >&#916;</text>
<text x="1004.45" y="253.20" font-size="19.5" font-family="Liberation Sans, sans-serif" text-anchor="middle" fill="#231f20" textLength="29.50" lengthAdjust="spacingAndGlyphs" stroke="#231f20" stroke-width="0.35">****</text>
<text x="1047.15" y="117.90" font-size="19.5" font-family="Liberation Sans, sans-serif" text-anchor="middle" fill="#231f20" textLength="29.50" lengthAdjust="spacingAndGlyphs" stroke="#231f20" stroke-width="0.35">****</text>
<text x="1090.10" y="256.60" font-size="19.5" font-family="Liberation Sans, sans-serif" text-anchor="middle" fill="#231f20" textLength="29.50" lengthAdjust="spacingAndGlyphs" stroke="#231f20" stroke-width="0.35">****</text>
<text x="1132.85" y="253.90" font-size="19.5" font-family="Liberation Sans, sans-serif" text-anchor="middle" fill="#231f20" textLength="29.50" lengthAdjust="spacingAndGlyphs" stroke="#231f20" stroke-width="0.35">****</text>
<rect x="958.50" y="364.50" width="177.40" height="4.50" fill="#231f20" />
<text transform="translate(995.26 393.20) scale(0.9906 1)" font-size="17.6" font-family="Liberation Sans, sans-serif" font-weight="bold" fill="#231f20" stroke="#231f20" stroke-width="0.25" >SARS-CoV-2</text>
<text transform="translate(24.24 473.40) scale(0.8136 1)" font-size="36.0" font-family="Liberation Sans, sans-serif" stroke="#000" stroke-width="0.65" >C</text>
<text transform="translate(57.61 498.40) scale(0.9858 1)" font-size="13.9" font-family="Liberation Sans, sans-serif" fill="#111" stroke="#111" stroke-width="0.25" >kDa</text>
<text transform="translate(57.93 527.60) scale(1.0680 1)" font-size="14.4" font-family="Liberation Sans, sans-serif" fill="#111" stroke="#111" stroke-width="0.26" >250</text>
<text transform="translate(57.53 560.80) scale(1.0852 1)" font-size="14.4" font-family="Liberation Sans, sans-serif" fill="#111" stroke="#111" stroke-width="0.26" >150</text>
<text transform="translate(57.53 603.30) scale(1.0852 1)" font-size="14.4" font-family="Liberation Sans, sans-serif" fill="#111" stroke="#111" stroke-width="0.26" >100</text>
<text transform="translate(66.01 627.30) scale(1.1029 1)" font-size="14.4" font-family="Liberation Sans, sans-serif" fill="#111" stroke="#111" stroke-width="0.26" >75</text>
<text transform="translate(66.01 686.30) scale(1.1029 1)" font-size="14.4" font-family="Liberation Sans, sans-serif" fill="#111" stroke="#111" stroke-width="0.26" >25</text>
<text transform="translate(66.01 718.90) scale(1.0976 1)" font-size="14.4" font-family="Liberation Sans, sans-serif" fill="#111" stroke="#111" stroke-width="0.26" >20</text>
<text transform="translate(628.69 549.10) scale(1.0048 1)" font-size="24.2" font-family="Liberation Sans, sans-serif" stroke="#000" stroke-width="0.44" >spike</text>
<text transform="translate(628.32 626.00) scale(0.8996 1)" font-size="24.2" font-family="Liberation Sans, sans-serif" stroke="#000" stroke-width="0.44" >S2</text>
<text transform="translate(629.00 705.00) scale(1.0304 1)" font-size="24.2" font-family="Liberation Sans, sans-serif" stroke="#000" stroke-width="0.44" >p24</text>
<g clip-path="url(#cC1)">
<linearGradient id="gC1" x1="0" y1="0" x2="0" y2="1"><stop offset="0" stop-color="#bcbcbc"/><stop offset="1" stop-color="#b9b9b9"/></linearGradient>
<rect x="85.60" y="513.00" width="532.40" height="144.60" fill="url(#gC1)" />
<g filter="url(#b3)">
<rect x="99.80" y="505.00" width="23.50" height="170.00" fill="#cdcdcd" opacity="0.38"/>
<rect x="140.30" y="505.00" width="21.20" height="170.00" fill="#cdcdcd" opacity="0.38"/>
<rect x="178.70" y="505.00" width="22.30" height="170.00" fill="#cdcdcd" opacity="0.38"/>
<rect x="217.30" y="505.00" width="22.90" height="170.00" fill="#cdcdcd" opacity="0.38"/>
<rect x="259.50" y="505.00" width="23.50" height="170.00" fill="#cdcdcd" opacity="0.38"/>
<rect x="301.00" y="505.00" width="23.70" height="170.00" fill="#cdcdcd" opacity="0.38"/>
<rect x="377.60" y="505.00" width="24.70" height="170.00" fill="#cdcdcd" opacity="0.38"/>
<rect x="421.50" y="505.00" width="23.50" height="170.00" fill="#cdcdcd" opacity="0.38"/>
<rect x="463.80" y="505.00" width="23.50" height="170.00" fill="#cdcdcd" opacity="0.38"/>
<rect x="505.00" y="505.00" width="22.00" height="170.00" fill="#cdcdcd" opacity="0.38"/>
<rect x="546.40" y="505.00" width="23.60" height="170.00" fill="#cdcdcd" opacity="0.38"/>
<rect x="588.00" y="505.00" width="23.50" height="170.00" fill="#cdcdcd" opacity="0.38"/>
</g>
<g filter="url(#b2)" opacity="0.5">
<rect x="95.30" y="550.00" width="3.00" height="112.00" fill="#a4a4a4" />
<rect x="124.80" y="550.00" width="3.00" height="112.00" fill="#a4a4a4" />
<rect x="135.80" y="550.00" width="3.00" height="112.00" fill="#a4a4a4" />
<rect x="163.00" y="550.00" width="3.00" height="112.00" fill="#a4a4a4" />
<rect x="174.20" y="550.00" width="3.00" height="112.00" fill="#a4a4a4" />
<rect x="202.50" y="550.00" width="3.00" height="112.00" fill="#a4a4a4" />
<rect x="212.80" y="550.00" width="3.00" height="112.00" fill="#a4a4a4" />
<rect x="241.70" y="550.00" width="3.00" height="112.00" fill="#a4a4a4" />
<rect x="255.00" y="550.00" width="3.00" height="112.00" fill="#a4a4a4" />
<rect x="284.50" y="550.00" width="3.00" height="112.00" fill="#a4a4a4" />
<rect x="296.50" y="550.00" width="3.00" height="112.00" fill="#a4a4a4" />
<rect x="326.20" y="550.00" width="3.00" height="112.00" fill="#a4a4a4" />
<rect x="373.10" y="550.00" width="3.00" height="112.00" fill="#a4a4a4" />
<rect x="403.80" y="550.00" width="3.00" height="112.00" fill="#a4a4a4" />
<rect x="417.00" y="550.00" width="3.00" height="112.00" fill="#a4a4a4" />
<rect x="446.50" y="550.00" width="3.00" height="112.00" fill="#a4a4a4" />
<rect x="459.30" y="550.00" width="3.00" height="112.00" fill="#a4a4a4" />
<rect x="488.80" y="550.00" width="3.00" height="112.00" fill="#a4a4a4" />
<rect x="500.50" y="550.00" width="3.00" height="112.00" fill="#a4a4a4" />
<rect x="528.50" y="550.00" width="3.00" height="112.00" fill="#a4a4a4" />
<rect x="541.90" y="550.00" width="3.00" height="112.00" fill="#a4a4a4" />
<rect x="571.50" y="550.00" width="3.00" height="112.00" fill="#a4a4a4" />
<rect x="583.50" y="550.00" width="3.00" height="112.00" fill="#a4a4a4" />
<rect x="613.00" y="550.00" width="3.00" height="112.00" fill="#a4a4a4" />
</g>
<g filter="url(#b5)">
<rect x="97.80" y="602.00" width="27.50" height="18.00" fill="#9c9c9c" opacity="0.5"/>
<rect x="176.70" y="610.00" width="26.30" height="14.00" fill="#a2a2a2" opacity="0.45"/>
<rect x="299.00" y="609.00" width="27.70" height="14.00" fill="#a0a0a0" opacity="0.45"/>
<rect x="375.60" y="608.00" width="28.70" height="14.00" fill="#a0a0a0" opacity="0.5"/>
<rect x="461.80" y="608.00" width="27.50" height="14.00" fill="#9a9a9a" opacity="0.5"/>
<rect x="586.00" y="606.00" width="27.50" height="14.00" fill="#a0a0a0" opacity="0.45"/>
<rect x="138.30" y="596.00" width="25.20" height="30.00" fill="#8a8a8a" opacity="0.5"/>
<rect x="215.30" y="591.00" width="26.90" height="36.00" fill="#707070" opacity="0.55"/>
<rect x="419.50" y="602.00" width="27.50" height="28.00" fill="#959595" opacity="0.45"/>
<rect x="503.00" y="597.00" width="26.00" height="34.00" fill="#868686" opacity="0.5"/>
</g>
<g filter="url(#b2)">
<rect x="133.00" y="609.50" width="27.50" height="9.00" fill="#686868" />
<ellipse cx="133.8" cy="613" rx="2.6" ry="12" fill="#303030"/>
<ellipse cx="159.7" cy="613" rx="2.6" ry="12" fill="#303030"/>
</g>
<g filter="url(#b2)">
<rect x="215.30" y="609.50" width="26.90" height="11.00" fill="#262626" />
<ellipse cx="216.1" cy="614" rx="3.8" ry="13" fill="#050505"/>
<ellipse cx="241.4" cy="614" rx="3.8" ry="13" fill="#050505"/>
</g>
<g filter="url(#b2)">
<rect x="419.50" y="613.00" width="27.50" height="9.00" fill="#9a9a9a" />
<ellipse cx="420.3" cy="616.5" rx="2.6" ry="13" fill="#5a5a5a"/>
<ellipse cx="446.2" cy="616.5" rx="2.6" ry="13" fill="#5a5a5a"/>
</g>
<g filter="url(#b2)">
<rect x="503.00" y="611.80" width="26.00" height="10.00" fill="#787878" />
<ellipse cx="503.8" cy="615.8" rx="3.4" ry="14" fill="#161616"/>
<ellipse cx="528.2" cy="615.8" rx="3.4" ry="14" fill="#161616"/>
</g>
<g filter="url(#b1)">
<path d="M96 529.5 Q97.5 528.5 100 531 Q104 533.5 110 533.5 L119 533.5 Q123 531.5 126 533 Q128 537 127.3 541 Q126.5 546 123.5 545.5 Q121 543.5 116 543.5 L106 543.5 Q101 545.5 99.5 545 Q96.5 538 96 529.5 Z" fill="#050505"/>
<path d="M177.9 540.3 L201.8 540.3" stroke="#060606" stroke-width="6.4" stroke-linecap="round" fill="none"/>
<ellipse cx="180.0" cy="539.7" rx="5.3" ry="5.0" fill="#060606"/>
<ellipse cx="199.7" cy="540.3" rx="5.3" ry="5.0" fill="#060606"/>
<path d="M258.7 540.3 L283.8 540.3" stroke="#0a0a0a" stroke-width="6.4" stroke-linecap="round" fill="none"/>
<ellipse cx="260.3" cy="539.7" rx="4.8" ry="4.5" fill="#0a0a0a"/>
<ellipse cx="282.2" cy="540.3" rx="4.8" ry="4.5" fill="#0a0a0a"/>
<path d="M300.1 540.5 L325.6 540.5" stroke="#0a0a0a" stroke-width="6.2" stroke-linecap="round" fill="none"/>
<ellipse cx="301.6" cy="539.9" rx="4.6" ry="4.3" fill="#0a0a0a"/>
<ellipse cx="324.1" cy="540.5" rx="4.6" ry="4.3" fill="#0a0a0a"/>
<path d="M374.2 537 Q376 535.5 380 538.5 L399 540.2 Q404 537.5 406.3 540 Q407.5 546 404.8 551.5 Q402 553 399 549.2 L383 548.8 Q378 552.5 376.2 550.5 Q373.8 545 374.2 537 Z" fill="#050505"/>
<path d="M463.1 545.2 L488.0 545.2" stroke="#060606" stroke-width="6.6" stroke-linecap="round" fill="none"/>
<ellipse cx="465.2" cy="544.6" rx="5.4" ry="5.1" fill="#060606"/>
<ellipse cx="485.9" cy="545.2" rx="5.4" ry="5.1" fill="#060606"/>
<path d="M545.7 545.2 L570.7 545.2" stroke="#060606" stroke-width="6.6" stroke-linecap="round" fill="none"/>
<ellipse cx="547.7" cy="544.6" rx="5.3" ry="5.0" fill="#060606"/>
<ellipse cx="568.7" cy="545.2" rx="5.3" ry="5.0" fill="#060606"/>
<ellipse cx="590.2" cy="545.3" rx="6.0" ry="5.0" fill="#080808"/>
<path d="M592 543 L600 545.2 L600 547.6 L592 548.5 Z" fill="#1a1a1a"/>
<path d="M601.5 544.5 Q605 541 609 538.5 Q613 534.5 615.8 535 L615.6 544 Q613.5 549.5 610 550.3 Q605 549.8 601.5 547.5 Z" fill="#080808"/>
<path d="M597.5 545.6 L603.5 546.6" stroke="#4a4a4a" stroke-width="2.4"/>
</g>
<g filter="url(#b1)">
<rect x="420.50" y="543.60" width="25.50" height="3.20" fill="#4a4a4a" />
<circle cx="421.1" cy="545.2" r="3.4" fill="#0a0a0a"/><circle cx="445.4" cy="544.6" r="3.8" fill="#0a0a0a"/>
</g>
<g filter="url(#b15)">
<rect x="138.30" y="536.20" width="25.20" height="3.60" fill="#a0a0a0" rx="1.8"/>
<rect x="136.80" y="535.60" width="4.00" height="5.00" fill="#6a6a6a" rx="2"/>
<rect x="161.00" y="535.60" width="4.00" height="5.00" fill="#6a6a6a" rx="2"/>
<rect x="503.00" y="543.60" width="25.00" height="3.60" fill="#a6a6a6" rx="1.8"/>
<rect x="215.30" y="540.00" width="22.90" height="3.00" fill="#b8b8b8" rx="1.5"/>
</g>
<g filter="url(#b3)" opacity="0.3">
<rect x="97.80" y="548.00" width="27.50" height="7.00" fill="#888" />
<rect x="176.70" y="548.00" width="26.30" height="7.00" fill="#888" />
<rect x="257.50" y="548.00" width="27.50" height="7.00" fill="#888" />
<rect x="299.00" y="548.00" width="27.70" height="7.00" fill="#888" />
<rect x="375.60" y="553.00" width="28.70" height="7.00" fill="#888" />
<rect x="461.80" y="553.00" width="27.50" height="7.00" fill="#888" />
<rect x="544.40" y="553.00" width="27.60" height="7.00" fill="#888" />
<rect x="586.00" y="553.00" width="27.50" height="7.00" fill="#888" />
</g>
<circle cx="240.5" cy="548.5" r="0.9" fill="#555"/>
<circle cx="460" cy="572" r="1.0" fill="#555"/>
<circle cx="414" cy="598" r="0.8" fill="#555"/>
<circle cx="593" cy="575" r="0.9" fill="#555"/>
<circle cx="374" cy="634" r="0.7" fill="#555"/>
<circle cx="305" cy="653" r="0.7" fill="#555"/>
</g>
<g clip-path="url(#cC2)">
<linearGradient id="gC2" x1="0" y1="0" x2="0" y2="1"><stop offset="0" stop-color="#d2d2d2"/><stop offset="0.5" stop-color="#dadada"/><stop offset="1" stop-color="#dcdcdc"/></linearGradient>
<rect x="85.60" y="671.70" width="532.40" height="78.50" fill="url(#gC2)" />
<linearGradient id="gT3" gradientUnits="objectBoundingBox" x1="0" y1="0" x2="0" y2="1"><stop offset="0" stop-color="#777" stop-opacity="0.25"/><stop offset="0.6" stop-color="#666" stop-opacity="0.5"/><stop offset="1" stop-color="#333" stop-opacity="0.85"/></linearGradient>
<g filter="url(#b2)">
<path d="M86.7 693.5 L92.3 693.5 L93.5 669 L89.5 669 Z" fill="url(#gT3)"/>
<path d="M114.3 702.0 L119.9 702.0 L117.1 669 L113.1 669 Z" fill="url(#gT3)"/>
<path d="M127.7 700.5 L133.3 700.5 L134.5 669 L130.5 669 Z" fill="url(#gT3)"/>
<path d="M153.7 706.5 L159.3 706.5 L156.5 669 L152.5 669 Z" fill="url(#gT3)"/>
<path d="M168.3 706.5 L173.9 706.5 L175.1 669 L171.1 669 Z" fill="url(#gT3)"/>
<path d="M195.3 710.0 L200.9 710.0 L198.1 669 L194.1 669 Z" fill="url(#gT3)"/>
<path d="M208.7 709.0 L214.3 709.0 L215.5 669 L211.5 669 Z" fill="url(#gT3)"/>
<path d="M236.7 712.5 L242.3 712.5 L239.5 669 L235.5 669 Z" fill="url(#gT3)"/>
<path d="M250.5 713.0 L256.1 713.0 L257.3 669 L253.3 669 Z" fill="url(#gT3)"/>
<path d="M277.5 718.5 L283.1 718.5 L280.3 669 L276.3 669 Z" fill="url(#gT3)"/>
<path d="M292.1 720.5 L297.7 720.5 L298.9 669 L294.9 669 Z" fill="url(#gT3)"/>
<path d="M321.3 724.5 L326.9 724.5 L324.1 669 L320.1 669 Z" fill="url(#gT3)"/>
<path d="M378.7 720.5 L384.3 720.5 L385.5 669 L381.5 669 Z" fill="url(#gT3)"/>
<path d="M407.7 717.5 L413.3 717.5 L410.5 669 L406.5 669 Z" fill="url(#gT3)"/>
<path d="M423.7 718.0 L429.3 718.0 L430.5 669 L426.5 669 Z" fill="url(#gT3)"/>
<path d="M449.7 716.5 L455.3 716.5 L452.5 669 L448.5 669 Z" fill="url(#gT3)"/>
<path d="M464.2 714.5 L469.8 714.5 L471.0 669 L467.0 669 Z" fill="url(#gT3)"/>
<path d="M490.1 711.5 L495.7 711.5 L492.9 669 L488.9 669 Z" fill="url(#gT3)"/>
<path d="M504.7 710.5 L510.3 710.5 L511.5 669 L507.5 669 Z" fill="url(#gT3)"/>
<path d="M529.5 707.0 L535.1 707.0 L532.3 669 L528.3 669 Z" fill="url(#gT3)"/>
<path d="M542.7 707.5 L548.3 707.5 L549.5 669 L545.5 669 Z" fill="url(#gT3)"/>
<path d="M567.7 702.0 L573.3 702.0 L570.5 669 L566.5 669 Z" fill="url(#gT3)"/>
<path d="M583.5 701.0 L589.1 701.0 L590.3 669 L586.3 669 Z" fill="url(#gT3)"/>
<path d="M608.5 697.5 L614.1 697.5 L611.3 669 L607.3 669 Z" fill="url(#gT3)"/>
</g>
<g filter="url(#b1)">
<path d="M88.0 693.5 Q94.0 695.3 103.3 696.5 T118.6 702.0" stroke="#0c0c0c" stroke-width="5.5" stroke-linecap="round" fill="none"/>
<path d="M129.0 700.5 Q135.0 700.8 143.5 702.0 T158.0 706.5" stroke="#0c0c0c" stroke-width="5.2" stroke-linecap="round" fill="none"/>
<path d="M169.6 706.5 Q175.6 704.8 184.6 706.0 T199.6 710.0" stroke="#0c0c0c" stroke-width="5.5" stroke-linecap="round" fill="none"/>
<path d="M210.0 709.0 Q216.0 707.0 225.5 708.2 T241.0 712.5" stroke="#0c0c0c" stroke-width="5.5" stroke-linecap="round" fill="none"/>
<path d="M251.8 713.0 Q257.8 712.3 266.8 713.5 T281.8 718.5" stroke="#0c0c0c" stroke-width="5.5" stroke-linecap="round" fill="none"/>
<path d="M293.4 720.5 Q299.4 717.8 309.5 719.0 T325.6 724.5" stroke="#0c0c0c" stroke-width="7.0" stroke-linecap="round" fill="none"/>
<path d="M380.0 720.5 Q386.0 714.3 396.0 715.5 T412.0 717.5" stroke="#0c0c0c" stroke-width="6.5" stroke-linecap="round" fill="none"/>
<path d="M425.0 718.0 Q431.0 714.3 439.5 715.5 T454.0 716.5" stroke="#0c0c0c" stroke-width="5.8" stroke-linecap="round" fill="none"/>
<path d="M465.5 714.5 Q471.5 711.3 479.9 712.5 T494.4 711.5" stroke="#0c0c0c" stroke-width="5.8" stroke-linecap="round" fill="none"/>
<path d="M506.0 710.5 Q512.0 707.0 519.9 708.2 T533.8 707.0" stroke="#2a2a2a" stroke-width="4.6" stroke-linecap="round" fill="none"/>
<path d="M544.0 707.5 Q550.0 702.3 558.0 703.5 T572.0 702.0" stroke="#0c0c0c" stroke-width="6.0" stroke-linecap="round" fill="none"/>
<path d="M584.8 701.0 Q590.8 695.8 598.8 697.0 T612.8 697.5" stroke="#0c0c0c" stroke-width="6.0" stroke-linecap="round" fill="none"/>
</g>
</g>
<text transform="translate(93.90 757.77) rotate(90) scale(0.8678 1)" font-size="25.0" font-family="Liberation Sans, sans-serif" stroke="#000" stroke-width="0.45" >SARS-CoV</text>
<text transform="translate(134.60 758.75) rotate(90) scale(0.9446 1)" font-size="25.0" font-family="Liberation Sans, sans-serif" stroke="#000" stroke-width="0.45" >WT</text>
<text transform="translate(176.40 758.50) rotate(90) scale(0.9247 1)" font-size="25.0" font-family="Liberation Sans, sans-serif" stroke="#000" stroke-width="0.45" >monoCS</text>
<text transform="translate(217.10 758.29) rotate(90) scale(0.8566 1)" font-size="25.0" font-family="Liberation Sans, sans-serif" stroke="#000" stroke-width="0.45" >H5CS</text>
<text transform="translate(257.60 758.25) rotate(90) scale(0.7940 1)" font-size="25.0" font-family="Liberation Sans, sans-serif" stroke="#000" stroke-width="0.45" >&#916;CS</text>
<text transform="translate(298.90 758.13) rotate(90) scale(0.9891 1)" font-size="25.0" font-family="Liberation Sans, sans-serif" stroke="#000" stroke-width="0.45" >&#916;flank</text>
<text transform="translate(386.40 757.77) rotate(90) scale(0.8678 1)" font-size="25.0" font-family="Liberation Sans, sans-serif" stroke="#000" stroke-width="0.45" >SARS-CoV</text>
<text transform="translate(427.10 758.75) rotate(90) scale(0.9446 1)" font-size="25.0" font-family="Liberation Sans, sans-serif" stroke="#000" stroke-width="0.45" >WT</text>
<text transform="translate(468.10 758.50) rotate(90) scale(0.9247 1)" font-size="25.0" font-family="Liberation Sans, sans-serif" stroke="#000" stroke-width="0.45" >monoCS</text>
<text transform="translate(509.30 758.29) rotate(90) scale(0.8566 1)" font-size="25.0" font-family="Liberation Sans, sans-serif" stroke="#000" stroke-width="0.45" >H5CS</text>
<text transform="translate(550.10 758.25) rotate(90) scale(0.7940 1)" font-size="25.0" font-family="Liberation Sans, sans-serif" stroke="#000" stroke-width="0.45" >&#916;CS</text>
<text transform="translate(590.60 758.13) rotate(90) scale(0.9891 1)" font-size="25.0" font-family="Liberation Sans, sans-serif" stroke="#000" stroke-width="0.45" >&#916;flank</text>
<rect x="382.50" y="874.70" width="222.00" height="4.10" fill="#000" />
<text transform="translate(415.89 905.00) scale(1.0876 1)" font-size="24.2" font-family="Liberation Sans, sans-serif" stroke="#000" stroke-width="0.44" >Furin inhibitor</text>
<text transform="translate(705.11 451.70) scale(0.9010 1)" font-size="36.0" font-family="Liberation Sans, sans-serif" stroke="#000" stroke-width="0.65" >D</text>
<text transform="translate(755.39 508.90) scale(0.9718 1)" font-size="19.2" font-family="Liberation Sans, sans-serif" fill="#111" stroke="#111" stroke-width="0.35" >kDa</text>
<text transform="translate(756.78 540.30) scale(1.0726 1)" font-size="19.0" font-family="Liberation Sans, sans-serif" fill="#111" stroke="#111" stroke-width="0.34" >250</text>
<text transform="translate(756.25 592.00) scale(1.0899 1)" font-size="19.0" font-family="Liberation Sans, sans-serif" fill="#111" stroke="#111" stroke-width="0.34" >150</text>
<text transform="translate(756.25 651.60) scale(1.0899 1)" font-size="19.0" font-family="Liberation Sans, sans-serif" fill="#111" stroke="#111" stroke-width="0.34" >100</text>
<text transform="translate(764.66 741.20) scale(1.2408 1)" font-size="19.0" font-family="Liberation Sans, sans-serif" fill="#111" stroke="#111" stroke-width="0.34" >50</text>
<text transform="translate(990.62 558.70) scale(1.0292 1)" font-size="22.6" font-family="Liberation Sans, sans-serif" stroke="#000" stroke-width="0.41" >spike</text>
<text transform="translate(990.25 668.80) scale(0.9319 1)" font-size="22.6" font-family="Liberation Sans, sans-serif" stroke="#000" stroke-width="0.41" >S2</text>
<text transform="translate(989.66 760.80) scale(1.0485 1)" font-size="22.6" font-family="Liberation Sans, sans-serif" stroke="#000" stroke-width="0.41" >nucleocapsid</text>
<g clip-path="url(#cD1)">
<linearGradient id="gD1" x1="0" y1="0" x2="1" y2="0"><stop offset="0" stop-color="#808080"/><stop offset="0.4" stop-color="#878787"/><stop offset="1" stop-color="#8e8e8e"/></linearGradient>
<rect x="791.90" y="512.00" width="189.10" height="187.40" fill="url(#gD1)" />
<g filter="url(#b5)">
<rect x="812.00" y="520.00" width="55.00" height="185.00" fill="#767676" opacity="0.6"/>
<rect x="814.00" y="575.00" width="50.00" height="75.00" fill="#6e6e6e" opacity="0.3"/>
<rect x="902.00" y="575.00" width="60.00" height="95.00" fill="#949494" opacity="0.8" rx="8"/>
<rect x="915.00" y="655.00" width="40.00" height="18.00" fill="#969696" opacity="0.7" rx="8"/>
<rect x="791.90" y="512.00" width="12.00" height="190.00" fill="#7a7a7a" opacity="0.6"/>
</g>
<g filter="url(#b2)">
<ellipse cx="972" cy="656" rx="9" ry="6" fill="#9c9c9c"/>
<ellipse cx="981.5" cy="657" rx="5" ry="3.5" fill="#3a3a3a"/>
</g>
<linearGradient id="gT" gradientUnits="userSpaceOnUse" x1="0" y1="515" x2="0" y2="556"><stop offset="0" stop-color="#444" stop-opacity="0"/><stop offset="0.45" stop-color="#333" stop-opacity="0.55"/><stop offset="1" stop-color="#111" stop-opacity="0.95"/></linearGradient>
<g filter="url(#b15)">
<rect x="810.80" y="515.00" width="4.00" height="44.00" fill="url(#gT)" />
<rect x="865.20" y="515.00" width="4.00" height="44.00" fill="url(#gT)" />
<rect x="901.80" y="515.00" width="4.00" height="44.00" fill="url(#gT)" />
<rect x="960.30" y="515.00" width="4.00" height="44.00" fill="url(#gT)" />
</g>
<g filter="url(#b2)">
<rect x="811.00" y="550.80" width="58.50" height="15.50" fill="#0a0a0a" rx="4"/>
<rect x="900.80" y="555.80" width="63.40" height="15.50" fill="#0a0a0a" rx="4"/>
<rect x="808.50" y="660.30" width="58.50" height="11.00" fill="#303030" rx="4"/>
<ellipse cx="815" cy="666" rx="5" ry="5.5" fill="#161616"/>
<ellipse cx="833" cy="666" rx="5" ry="5.5" fill="#161616"/>
<ellipse cx="857" cy="666" rx="5" ry="5.5" fill="#161616"/>
</g>
<circle cx="801" cy="594" r="0.8" fill="#484848"/>
<circle cx="830" cy="618" r="0.8" fill="#484848"/>
<circle cx="853" cy="678" r="0.9" fill="#484848"/>
<circle cx="922" cy="662" r="0.8" fill="#484848"/>
<circle cx="941" cy="677" r="1.1" fill="#484848"/>
<circle cx="926" cy="690" r="0.8" fill="#484848"/>
<circle cx="972" cy="593" r="0.8" fill="#484848"/>
<circle cx="963" cy="515" r="1.0" fill="#484848"/>
<circle cx="980" cy="524" r="1.0" fill="#484848"/>
<circle cx="953.5" cy="531.5" r="3.6" fill="none" stroke="#c0c0c0" stroke-width="1.2" opacity="0.8"/>
</g>
<g clip-path="url(#cD2)">
<linearGradient id="gD2" x1="0" y1="0" x2="0" y2="1"><stop offset="0" stop-color="#e1e1e1"/><stop offset="1" stop-color="#eaeaea"/></linearGradient>
<rect x="791.90" y="706.60" width="189.10" height="73.60" fill="url(#gD2)" />
<g filter="url(#b5)">
<rect x="800.00" y="753.00" width="72.00" height="12.00" fill="#bdbdbd" opacity="0.85"/>
<rect x="898.00" y="753.00" width="74.00" height="12.00" fill="#bdbdbd" opacity="0.85"/>
</g>
<linearGradient id="gT2" gradientUnits="userSpaceOnUse" x1="0" y1="706" x2="0" y2="748"><stop offset="0" stop-color="#999" stop-opacity="0.55"/><stop offset="1" stop-color="#666" stop-opacity="0.9"/></linearGradient>
<g filter="url(#b15)">
<rect x="802.80" y="704.00" width="3.60" height="44.00" fill="url(#gT2)" opacity="0.75"/>
<rect x="865.20" y="704.00" width="3.60" height="44.00" fill="url(#gT2)" opacity="1.0"/>
<rect x="901.10" y="704.00" width="3.60" height="44.00" fill="url(#gT2)" opacity="0.8"/>
<rect x="968.50" y="704.00" width="3.60" height="44.00" fill="url(#gT2)" opacity="0.6"/>
</g>
<g filter="url(#b2)">
<path d="M801.5 748.8 Q815 746.5 835 748 T870.5 749.5" stroke="#303030" stroke-width="8.2" stroke-linecap="round" fill="none"/>
<path d="M848 749.5 L869 749.8" stroke="#1a1a1a" stroke-width="8" stroke-linecap="round" fill="none"/>
<path d="M900 750 Q915 746.5 935 748 T970.5 752.5" stroke="#2c2c2c" stroke-width="8.2" stroke-linecap="round" fill="none"/>
<path d="M950 749.5 L968.5 752" stroke="#0e0e0e" stroke-width="8.6" stroke-linecap="round" fill="none"/>
</g>
</g>
<rect x="791.9" y="706.6" width="189.1" height="73.6" fill="none" stroke="#d0d0d0" stroke-width="0.8"/>
<text transform="translate(827.00 789.50) rotate(90) scale(0.9466 1)" font-size="23.4" font-family="Liberation Sans, sans-serif" stroke="#000" stroke-width="0.42" >WT</text>
<text transform="translate(928.30 784.23) rotate(90) scale(0.8075 1)" font-size="23.4" font-family="Liberation Sans, sans-serif" stroke="#000" stroke-width="0.42" >&#916;CS</text>
</g>
</svg>
</body></html>
